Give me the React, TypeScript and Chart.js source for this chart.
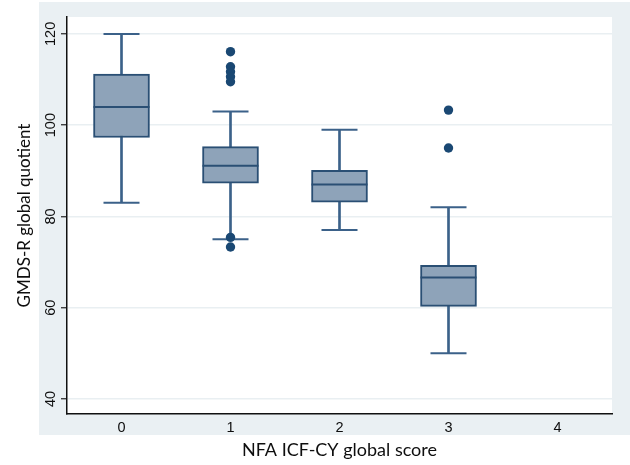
import React, { useEffect, useRef } from "react";
import { Chart, registerables } from "chart.js";

Chart.register(...registerables);

const categories = ["0", "1", "2", "3", "4"];
const whiskerLow: (number | null)[] = [83, 75, 77, 50, null];
const quartile1: (number | null)[] = [97.3, 87.3, 83.1, 60.3, null];
const medians: (number | null)[] = [104, 91.1, 87, 66.6, null];
const quartile3: (number | null)[] = [111.2, 95.3, 90.1, 69.3, null];
const whiskerHigh: (number | null)[] = [120, 103, 99, 82, null];
const outlierGroups = ["1", "1", "1", "1", "1", "1", "1", "3", "3"];
const outlierValues = [116.1, 112.8, 111.7, 110.6, 109.5, 75.4, 73.3, 103.3, 95.0];
const yTickValues = [40, 60, 80, 100, 120];

const BOX_FILL = "#8ea3b9";
const BOX_BORDER = "#2a4f74";
const WHISKER = "#3b6189";
const OUTLIER = "#1a4873";
const BG = "#eaf0f3";
const GRID = "#e9eff2";
const TEXT = "#0e0e0e";

const backgroundPlugin = {
  id: "stataBackground",
  beforeDraw(chart: any) {
    const { ctx, chartArea } = chart;
    ctx.save();
    ctx.fillStyle = BG;
    const left = chartArea.left - 28;
    const top = chartArea.top - 15;
    ctx.fillRect(left, top, chart.width - left, chartArea.bottom + 21 - top);
    ctx.fillStyle = "#ffffff";
    ctx.fillRect(chartArea.left, chartArea.top, chartArea.right - chartArea.left, chartArea.bottom - chartArea.top);
    ctx.restore();
  },
};

export default function App() {
  const ref = useRef<HTMLCanvasElement | null>(null);

  useEffect(() => {
    document.body.style.margin = "0";
    const canvas = ref.current;
    if (!canvas) return;
    const tickFont = { family: "'Liberation Sans', Arial, sans-serif", size: 14.5 };
    const chart = new Chart(canvas, {
      type: "bar",
      data: {
        labels: categories,
        datasets: [
          {
            type: "bar",
            label: "whiskers",
            data: whiskerLow.map((lo, i) => (lo == null || whiskerHigh[i] == null ? null : [lo, whiskerHigh[i] as number])) as any,
            backgroundColor: WHISKER,
            barThickness: 2,
            grouped: false,
            order: 6,
          },
          {
            type: "bar",
            label: "boxes",
            data: quartile1.map((lo, i) => (lo == null || quartile3[i] == null ? null : [lo, quartile3[i] as number])) as any,
            backgroundColor: BOX_FILL,
            borderColor: BOX_BORDER,
            borderWidth: 2,
            borderSkipped: false,
            barThickness: 56,
            grouped: false,
            order: 5,
          },
          {
            type: "line",
            label: "medians",
            data: medians as any,
            showLine: false,
            pointStyle: "line",
            pointRadius: 28,
            pointBorderWidth: 2,
            pointBorderColor: BOX_BORDER,
            order: 4,
          },
          {
            type: "line",
            label: "capHigh",
            data: whiskerHigh as any,
            showLine: false,
            pointStyle: "line",
            pointRadius: 18,
            pointBorderWidth: 2,
            pointBorderColor: WHISKER,
            order: 4,
          },
          {
            type: "line",
            label: "capLow",
            data: whiskerLow as any,
            showLine: false,
            pointStyle: "line",
            pointRadius: 18,
            pointBorderWidth: 2,
            pointBorderColor: WHISKER,
            order: 4,
          },
          {
            type: "line",
            label: "outliers",
            data: outlierGroups.map((g, i) => ({ x: g, y: outlierValues[i] })) as any,
            showLine: false,
            pointStyle: "circle",
            pointRadius: 4.7,
            pointBorderWidth: 0,
            pointBackgroundColor: OUTLIER,
            pointBorderColor: OUTLIER,
            order: 1,
          },
        ],
      },
      options: {
        responsive: false,
        animation: false,
        events: [],
        layout: { autoPadding: false, padding: { top: 17, right: 18, left: 0, bottom: 0 } },
        plugins: { legend: { display: false }, tooltip: { enabled: false } },
        scales: {
          x: {
            type: "category",
            offset: true,
            grid: { display: false, drawTicks: false },
            border: { display: true, color: "#111", width: 1.5 },
            ticks: { font: tickFont, color: TEXT, padding: 5 },
            title: {
              display: true,
              text: "NFA ICF-CY global score",
              font: { family: "Lato, sans-serif", size: 18 },
              color: TEXT,
              padding: { top: 0, bottom: 4 },
            },
            afterFit: (s: any) => {
              s.height = 51;
              s.paddingLeft = 0;
              s.paddingRight = 0;
            },
          },
          y: {
            type: "linear",
            min: 36.7,
            max: 123.7,
            afterBuildTicks: (s: any) => {
              s.ticks = yTickValues.map((v) => ({ value: v }));
            },
            grid: { color: GRID, lineWidth: 1.5, tickColor: "#222", tickLength: 6, tickWidth: 1.2 },
            border: { display: true, color: "#111", width: 1.5 },
            ticks: { font: tickFont, color: TEXT, minRotation: 90, maxRotation: 90, crossAlign: "center", padding: -2 },
            title: {
              display: true,
              text: "GMDS-R global quotient",
              font: { family: "Lato, sans-serif", size: 17 },
              color: TEXT,
              padding: { top: 14, bottom: 0 },
            },
            afterFit: (s: any) => {
              s.width = 67;
              s.paddingTop = 0;
              s.paddingBottom = 0;
            },
          },
        },
      },
      plugins: [backgroundPlugin],
    } as any);
    return () => chart.destroy();
  }, []);

  return <canvas ref={ref} width={630} height={465} style={{ display: "block" }} />;
}
